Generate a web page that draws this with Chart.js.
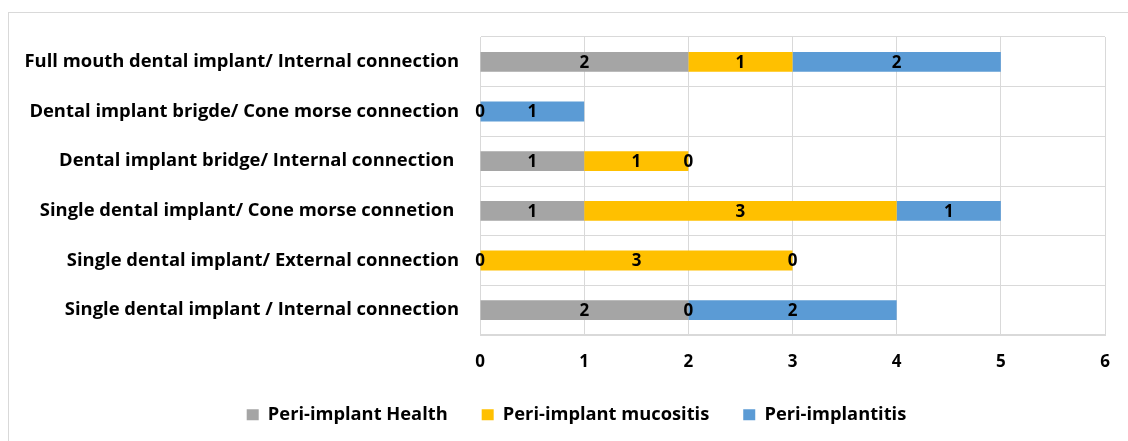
<!DOCTYPE html>
<html><head><meta charset="utf-8">
<script src="https://cdn.jsdelivr.net/npm/chart.js@4.4.0/dist/chart.umd.min.js"></script>
<style>
html,body{margin:0;padding:0;background:#fff;}
#wrap{position:relative;width:1128px;height:441px;overflow:hidden;}
#frame{position:absolute;left:8px;top:12px;width:1130px;height:460px;border:1px solid #d9d9d9;box-sizing:border-box;}
canvas{position:absolute;left:0;top:0;}
</style></head>
<body><div id="wrap"><div id="frame"></div><canvas id="c" width="1128" height="441"></canvas></div>
<script>
const categories = [
  "Full mouth dental implant/ Internal connection",
  "Dental implant brigde/ Cone morse connection",
  "Dental implant bridge/ Internal connection ",
  "Single dental implant/ Cone morse connetion ",
  "Single dental implant/ External connection",
  "Single dental implant / Internal connection"
];
const health     = [2, 0, 1, 1, 0, 2];
const mucositis  = [1, null, 1, 3, 3, 0];
const implantitis= [2, 1, 0, 1, 0, 2];
const xTicks = [0, 1, 2, 3, 4, 5, 6];

const FONT = "'Open Sans'";
const PLOT_BOTTOM = 335;
const PLOT_LEFT = 480;
const PAD_LEFT = 48;
const PAD_BOTTOM = 7;

const valueLabels = {
  id: 'valueLabels',
  afterDatasetsDraw(chart) {
    const ctx = chart.ctx;
    ctx.save();
    ctx.font = "bold 17px " + FONT;
    ctx.fillStyle = "#000";
    ctx.textAlign = "center";
    ctx.textBaseline = "middle";
    chart.data.datasets.forEach((ds, i) => {
      const meta = chart.getDatasetMeta(i);
      meta.data.forEach((el, j) => {
        const v = ds.data[j];
        if (v === null || v === undefined) return;
        const cx = (el.x + el.base) / 2;
        ctx.fillText(String(v), cx, el.y + 1);
      });
    });
    ctx.restore();
  }
};

new Chart(document.getElementById('c'), {
  type: 'bar',
  data: {
    labels: categories,
    datasets: [
      {label: 'Peri-implant Health', data: health, backgroundColor: '#A5A5A5'},
      {label: 'Peri-implant mucositis', data: mucositis, backgroundColor: '#FFC000'},
      {label: 'Peri-implantitis', data: implantitis, backgroundColor: '#5B9BD5'}
    ]
  },
  options: {
    indexAxis: 'y',
    responsive: false,
    animation: false,
    devicePixelRatio: 1,
    datasets: {bar: {barPercentage: 0.4, categoryPercentage: 1.0}},
    layout: {padding: {top: 37, right: 23, left: PAD_LEFT, bottom: PAD_BOTTOM}},
    scales: {
      x: {
        stacked: true, min: 0, max: 6,
        afterBuildTicks(s) { s.ticks = xTicks.map(v => ({value: v})); },
        afterFit(s) {
          const lh = (s.chart.legend && s.chart.legend.height) || 64;
          s.height = Math.max(10, 441 - PAD_BOTTOM - lh - PLOT_BOTTOM);
          s._computeLabelArea = function () { return undefined; };
        },
        grid: {color: '#d9d9d9', drawTicks: false},
        border: {color: '#d9d9d9'},
        ticks: {padding: 17, color: '#000', font: {family: FONT, size: 17, weight: 'bold'}}
      },
      y: {
        stacked: true,
        afterFit(s) {
          s.width = PLOT_LEFT - PAD_LEFT;
          s._computeLabelArea = function () { return undefined; };
        },
        grid: {color: '#d9d9d9', drawTicks: false, offset: true},
        border: {color: '#d9d9d9'},
        ticks: {padding: 21, color: '#000', font: {family: FONT, size: 18.4, weight: 'bold'}}
      }
    },
    plugins: {
      legend: {
        position: 'bottom',
        labels: {boxWidth: 12, boxHeight: 11, padding: 34, color: '#000',
          font: {family: FONT, size: 18.3, weight: 'bold'}}
      },
      tooltip: {enabled: false}
    }
  },
  plugins: [valueLabels]
});
</script></body></html>
